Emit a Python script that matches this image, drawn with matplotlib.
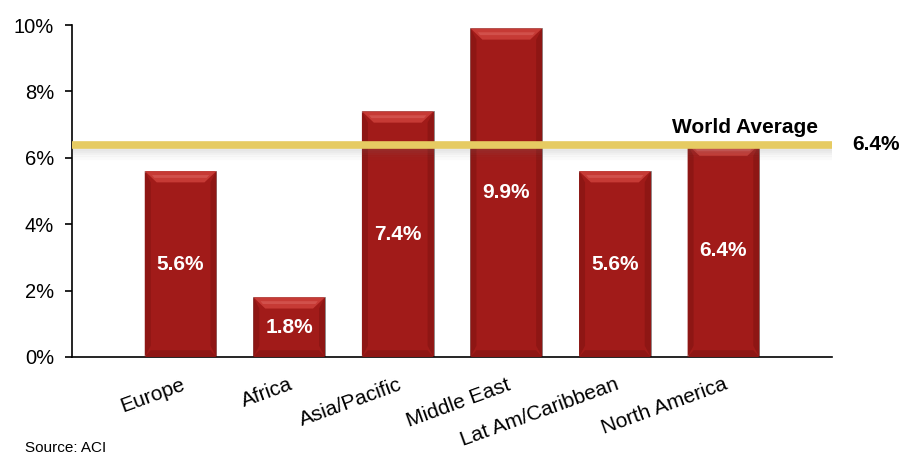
import matplotlib
matplotlib.use("Agg")
import matplotlib.pyplot as plt
from matplotlib.patches import Polygon
from matplotlib.ticker import FuncFormatter

plt.rcParams['font.family'] = ['Liberation Sans', 'DejaVu Sans']

regions = ["Europe", "Africa", "Asia/Pacific", "Middle East", "Lat Am/Caribbean", "North America"]
growth = [5.6, 1.8, 7.4, 9.9, 5.6, 6.4]
world_average = 6.4
y_ticks = [0, 2, 4, 6, 8, 10]

fig = plt.figure(figsize=(9.14, 4.55), dpi=100)
ax = fig.add_axes([0.0788, 0.2154, 0.8315, 0.7296])

positions = list(range(1, len(regions) + 1))
width = 0.66
base_color = '#A11B19'

ax.bar(positions, growth, width=width, color=base_color, edgecolor='#8a8a8a',
       linewidth=0.6, zorder=2)

# bevelled faces on each bar
bx, by = 0.11, 0.34
for x, v in zip(positions, growth):
    l, r = x - width / 2, x + width / 2
    top = Polygon([(l, v), (r, v), (r - bx, v - by), (l + bx, v - by)],
                  closed=True, facecolor='#C63A35', edgecolor='none', zorder=3)
    hi = Polygon([(l + bx * 0.6, v - by * 0.35), (r - bx * 0.6, v - by * 0.35),
                  (r - bx * 0.8, v - by * 0.6), (l + bx * 0.8, v - by * 0.6)],
                 closed=True, facecolor='#D9605A', edgecolor='none', alpha=0.6, zorder=3)
    left = Polygon([(l, v), (l + bx * 0.5, v - by), (l + bx * 0.5, by), (l, 0)],
                   closed=True, facecolor='#8E1614', edgecolor='none', zorder=3)
    right = Polygon([(r, v), (r - bx * 0.5, v - by), (r - bx * 0.5, by), (r, 0)],
                    closed=True, facecolor='#8E1614', edgecolor='none', zorder=3)
    bottom = Polygon([(l, 0), (r, 0), (r - bx * 0.5, by * 0.6), (l + bx * 0.5, by * 0.6)],
                     closed=True, facecolor='#8E1614', edgecolor='none', zorder=3)
    for p in (left, right, bottom, top, hi):
        ax.add_patch(p)
    ax.text(x, v / 2, f"{v:.1f}%", color='white', fontsize=15, fontweight='bold',
            ha='center', va='center', zorder=5)

# world average line with a soft shadow underneath
for i, a in enumerate([0.10, 0.08, 0.06, 0.04, 0.03]):
    ax.axhline(world_average - 0.12 - i * 0.07, color='#777777', lw=3, alpha=a, zorder=3.5)
ax.axhline(world_average, color='#E6CB62', lw=5.5, zorder=4)
ax.text(7 - 0.13, world_average + 0.22, "World Average", fontsize=15, fontweight='bold',
        ha='right', va='bottom', zorder=6)
ax.text(7.19, world_average, f"{world_average:.1f}%", fontsize=15, fontweight='bold',
        ha='left', va='center', clip_on=False)

ax.set_xlim(0, 7)
ax.set_ylim(0, 10)
ax.set_yticks(y_ticks)
ax.yaxis.set_major_formatter(FuncFormatter(lambda v, p: f"{v:.0f}%"))
ax.tick_params(axis='y', labelsize=14.5, length=5, width=1.2, pad=8)
ax.set_xticks(positions)
ax.set_xticklabels(regions, rotation=20, ha='right', rotation_mode='anchor', fontsize=15)
ax.tick_params(axis='x', length=0, pad=13)

for s in ('top', 'right'):
    ax.spines[s].set_visible(False)
ax.spines['left'].set_linewidth(1.2)
ax.spines['bottom'].set_linewidth(1.2)

fig.text(25 / 914, 1 - 448 / 455, "Source: ACI", fontsize=11, ha='left', va='center')

fig.savefig("out.png", dpi=100)
